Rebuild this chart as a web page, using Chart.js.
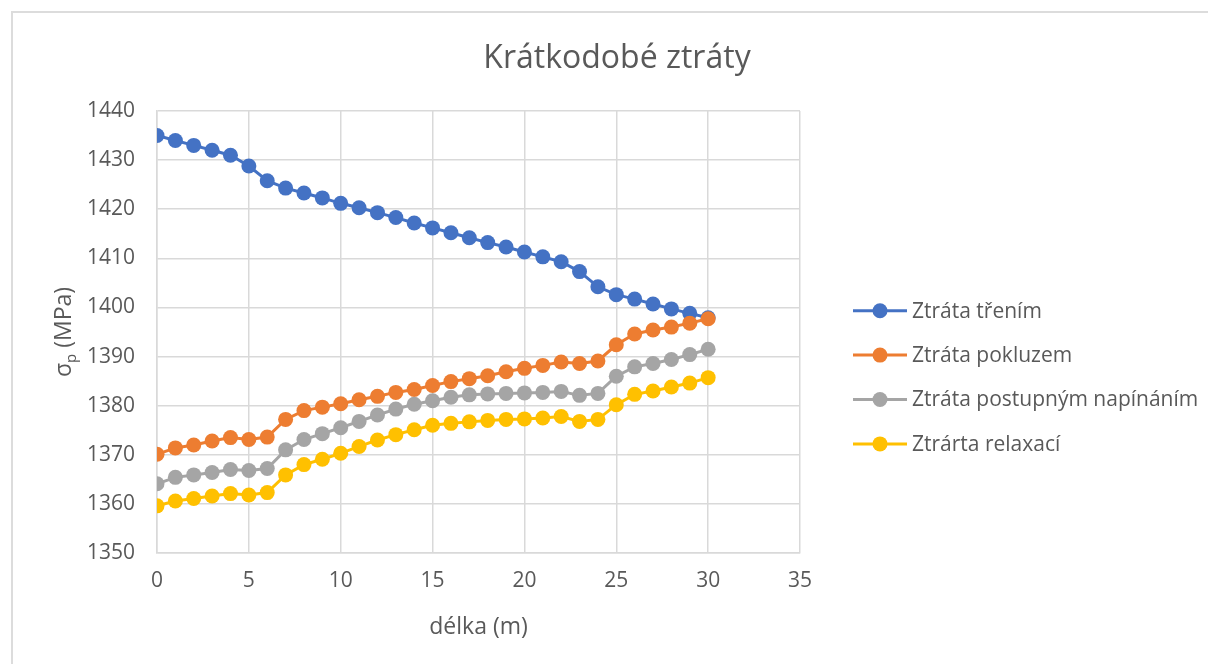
<!DOCTYPE html>
<html lang="cs">
<head>
<meta charset="UTF-8">
<title>Krátkodobé ztráty</title>
<style>
  html, body { margin: 0; background: #fff; overflow: hidden; }
  .frame { position: absolute; left: 11px; top: 11px; width: 1208px; height: 651px;
           border-left: 2px solid #dcdcdc; border-top: 2px solid #dcdcdc; }
  canvas { display: block; }
</style>
<script src="https://cdn.jsdelivr.net/npm/chart.js"></script>
</head>
<body>
<div class="frame"><canvas id="chart" width="1208" height="651"></canvas></div>
<script>
  // délka (m)
  const delka = [0, 1, 2, 3, 4, 5, 6, 7, 8, 9, 10, 11, 12, 13, 14, 15, 16, 17, 18, 19, 20,
                 21, 22, 23, 24, 25, 26, 27, 28, 29, 30];

  const treni = [1435, 1434, 1433, 1432, 1431, 1428.8, 1425.8, 1424.3, 1423.3, 1422.3, 1421.2,
                 1420.3, 1419.3, 1418.3, 1417.2, 1416.2, 1415.2, 1414.2, 1413.2, 1412.3, 1411.3,
                 1410.3, 1409.3, 1407.3, 1404.2, 1402.6, 1401.7, 1400.7, 1399.7, 1398.8, 1397.9];

  const pokluz = [1370.1, 1371.4, 1372, 1372.8, 1373.5, 1373.1, 1373.6, 1377.2, 1379, 1379.7, 1380.4,
                  1381.2, 1381.9, 1382.7, 1383.3, 1384.1, 1384.9, 1385.5, 1386.1, 1386.9, 1387.6,
                  1388.2, 1388.9, 1388.6, 1389.1, 1392.4, 1394.6, 1395.4, 1396.0, 1396.8, 1397.7];

  const napinani = [1364.1, 1365.4, 1365.9, 1366.4, 1367.0, 1366.8, 1367.2, 1371.0, 1373.1, 1374.3, 1375.5,
                    1376.8, 1378.1, 1379.3, 1380.3, 1381.0, 1381.7, 1382.2, 1382.4, 1382.5, 1382.6,
                    1382.7, 1382.9, 1382.1, 1382.5, 1386.0, 1387.9, 1388.6, 1389.4, 1390.4, 1391.5];

  const relaxace = [1359.6, 1360.6, 1361.1, 1361.6, 1362.1, 1361.8, 1362.3, 1365.9, 1368.0, 1369.1, 1370.3,
                    1371.7, 1373.0, 1374.1, 1375.1, 1376.0, 1376.4, 1376.7, 1377.0, 1377.2, 1377.3,
                    1377.5, 1377.8, 1376.8, 1377.2, 1380.2, 1382.3, 1383.0, 1383.8, 1384.6, 1385.7];

  const nazvy = ['Ztráta třením', 'Ztráta pokluzem', 'Ztráta postupným napínáním', 'Ztrárta relaxací'];
  const barvy = ['#4472C4', '#ED7D31', '#A5A5A5', '#FFC000'];

  const FONT = '"Open Sans", Lato, sans-serif';
  const TEXT = '#595959';
  const GRID = '#d9d9d9';

  const serie = [treni, pokluz, napinani, relaxace];

  const datasets = serie.map((vals, i) => ({
    label: nazvy[i],
    data: vals.map((v, j) => ({ x: delka[j], y: v })),
    borderColor: barvy[i],
    backgroundColor: barvy[i],
    borderWidth: 3,
    pointRadius: 7.5,
    pointHoverRadius: 7.5,
    pointBorderWidth: 0,
    order: serie.length - i   // pozdější řada nahoře, jako v Excelu
  }));

  // legenda vpravo: čára s kolečkem + text
  const legendaVpravo = {
    id: 'legendaVpravo',
    afterDraw(chart) {
      const ctx = chart.ctx;
      const x0 = 840, y0 = 297.7, krok = 44.4;
      ctx.save();
      ctx.font = '21px ' + FONT;
      ctx.textBaseline = 'middle';
      ctx.textAlign = 'left';
      chart.data.datasets.forEach((ds, i) => {
        const y = y0 + i * krok;
        ctx.strokeStyle = ds.borderColor;
        ctx.lineWidth = 3;
        ctx.beginPath();
        ctx.moveTo(x0, y);
        ctx.lineTo(x0 + 54, y);
        ctx.stroke();
        ctx.fillStyle = ds.backgroundColor;
        ctx.beginPath();
        ctx.arc(x0 + 27, y, 7.5, 0, Math.PI * 2);
        ctx.fill();
        ctx.fillStyle = TEXT;
        ctx.fillText(ds.label, x0 + 59, y + 1);
      });
      ctx.restore();
    }
  };

  // popis osy y se spodním indexem (σ_p)
  const popisY = {
    id: 'popisY',
    afterDraw(chart) {
      const ctx = chart.ctx;
      const a = chart.chartArea;
      ctx.save();
      ctx.translate(50, (a.top + a.bottom) / 2);
      ctx.rotate(-Math.PI / 2);
      ctx.fillStyle = TEXT;
      ctx.textBaseline = 'alphabetic';
      const velky = '23px ' + FONT, maly = '15px ' + FONT;
      ctx.font = velky;
      const w1 = ctx.measureText('σ').width;
      const w3 = ctx.measureText(' (MPa)').width;
      ctx.font = maly;
      const w2 = ctx.measureText('p').width;
      let x = -(w1 + w2 + w3) / 2;
      const base = 8;
      ctx.font = velky;
      ctx.fillText('σ', x, base);
      x += w1;
      ctx.font = maly;
      ctx.fillText('p', x, base + 5);
      x += w2;
      ctx.font = velky;
      ctx.fillText(' (MPa)', x, base);
      ctx.restore();
    }
  };

  new Chart(document.getElementById('chart'), {
    type: 'line',
    data: { datasets },
    options: {
      responsive: false,
      animation: false,
      layout: { padding: 0 },
      plugins: {
        legend: { display: false },
        tooltip: { enabled: false },
        title: {
          display: true,
          text: 'Krátkodobé ztráty',
          color: TEXT,
          font: { family: FONT, size: 32, weight: 'normal' },
          padding: { top: 27, bottom: 32.6 }
        }
      },
      scales: {
        x: {
          type: 'linear',
          min: 0, max: 35,
          afterFit: s => { s.height = 111; },
          ticks: { stepSize: 5, color: TEXT, font: { family: FONT, size: 21 }, padding: 15 },
          grid: { color: GRID, lineWidth: 1.5, drawTicks: false },
          border: { color: GRID, width: 1.5 },
          title: {
            display: true, text: 'délka (m)', color: TEXT,
            font: { family: FONT, size: 23 }, padding: { top: 0, bottom: 23 }
          }
        },
        y: {
          min: 1350, max: 1440,
          afterFit: s => { s.width = 144; },
          ticks: { stepSize: 10, color: TEXT, font: { family: FONT, size: 21 }, padding: 22,
                   callback: v => String(v) },
          grid: { color: GRID, lineWidth: 1.5, drawTicks: false },
          border: { color: GRID, width: 1.5 }
        },
        // prázdný prostor vpravo pro legendu
        misto: {
          type: 'linear', position: 'right', display: true,
          afterFit: s => { s.width = 421; },
          ticks: { display: false },
          grid: { display: false },
          border: { display: false }
        }
      }
    },
    plugins: [legendaVpravo, popisY]
  });
</script>
</body>
</html>
